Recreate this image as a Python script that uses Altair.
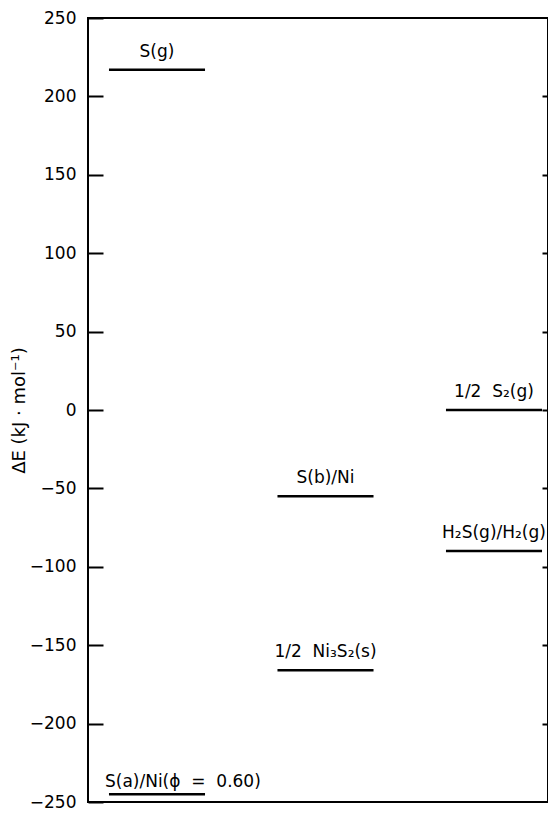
import altair as alt
import pandas as pd

# Energy levels (kJ/mol)
NB = "\u00a0"
labels = [
    "S(g)",
    f"S(a)/Ni(\u03d5{NB}{NB}={NB}{NB}0.60)",
    "S(b)/Ni",
    f"1/2{NB}{NB}Ni\u2083S\u2082(s)",
    f"1/2{NB}{NB}S\u2082(g)",
    "H\u2082S(g)/H\u2082(g)",
]
energies = [217, -245, -55, -166, 0, -90]
columns = [0, 0, 1, 1, 2, 2]

y_label_values = [250, 200, 150, 100, 50, 0, -50, -100, -150, -200, -250]
inner_tick_values = [200, 150, 100, 50, 0, -50, -100, -150, -200]

df = pd.DataFrame({"label": labels, "E": energies, "col": columns})

FONT = "DejaVu Sans"
HALF = 0.285
W, H = 460, 784

xscale = alt.Scale(domain=[-0.4095, 2.3205], nice=False, zero=False)
yscale = alt.Scale(domain=[-250, 250], nice=False, zero=False)

base = alt.Chart(df).transform_calculate(
    xa=f"datum.col - {HALF}", xb=f"datum.col + {HALF}"
)

# layer 1: level lines; left axis = labels + title + inward ticks
levels = base.mark_rule(strokeWidth=2.5, color="black").encode(
    x=alt.X("xa:Q", scale=xscale, axis=None),
    x2="xb:Q",
    y=alt.Y(
        "E:Q",
        scale=yscale,
        axis=alt.Axis(
            orient="left",
            values=y_label_values,
            offset=-15,
            tickSize=15,
            tickWidth=2,
            tickColor="black",
            domain=False,
            grid=False,
            labelPadding=12,
            labelFont=FONT,
            labelFontSize=17,
            labelColor="black",
            title="\u0394E (kJ \u00b7 mol\u207b\u00b9)",
            titleFont=FONT,
            titleFontSize=18,
            titleFontWeight="normal",
            titleColor="black",
            titleX=-84,
            titleY=H / 2,
            titleAngle=270,
            titleAlign="center",
            titleBaseline="middle",
        ),
    ),
)

# layer 2: labels above the lines; right axis = short inward ticks
texts = base.transform_filter(alt.datum.label != labels[1]).mark_text(
    font=FONT, fontSize=17, color="black", align="center", baseline="alphabetic", dy=-13
).encode(
    x=alt.X("col:Q", scale=xscale, axis=None),
    y=alt.Y(
        "E:Q",
        scale=yscale,
        axis=alt.Axis(
            orient="right",
            values=inner_tick_values,
            offset=-6,
            tickSize=6,
            tickWidth=2,
            tickColor="black",
            domain=False,
            grid=False,
            labels=False,
            title=None,
        ),
    ),
    text="label:N",
)

# layer 3: the bottom-left label, left-aligned on its line
text_a = base.transform_filter(alt.datum.label == labels[1]).mark_text(
    font=FONT, fontSize=17, color="black", align="left", baseline="alphabetic", dy=-7, dx=-4
).encode(
    x=alt.X("xa:Q", scale=xscale, axis=None),
    y=alt.Y("E:Q", scale=yscale, axis=None),
    text="label:N",
)

chart = (
    alt.layer(levels, texts, text_a)
    .resolve_axis(y="independent")
    .properties(
        width=W,
        height=H,
        autosize=alt.AutoSizeParams(type="none"),
        padding={"left": 80, "top": 10, "right": 0, "bottom": 9},
        background="white",
    )
    .configure_view(stroke="black", strokeWidth=2)
)

chart.save("out.html", embed_options={"renderer": "svg", "actions": False})
